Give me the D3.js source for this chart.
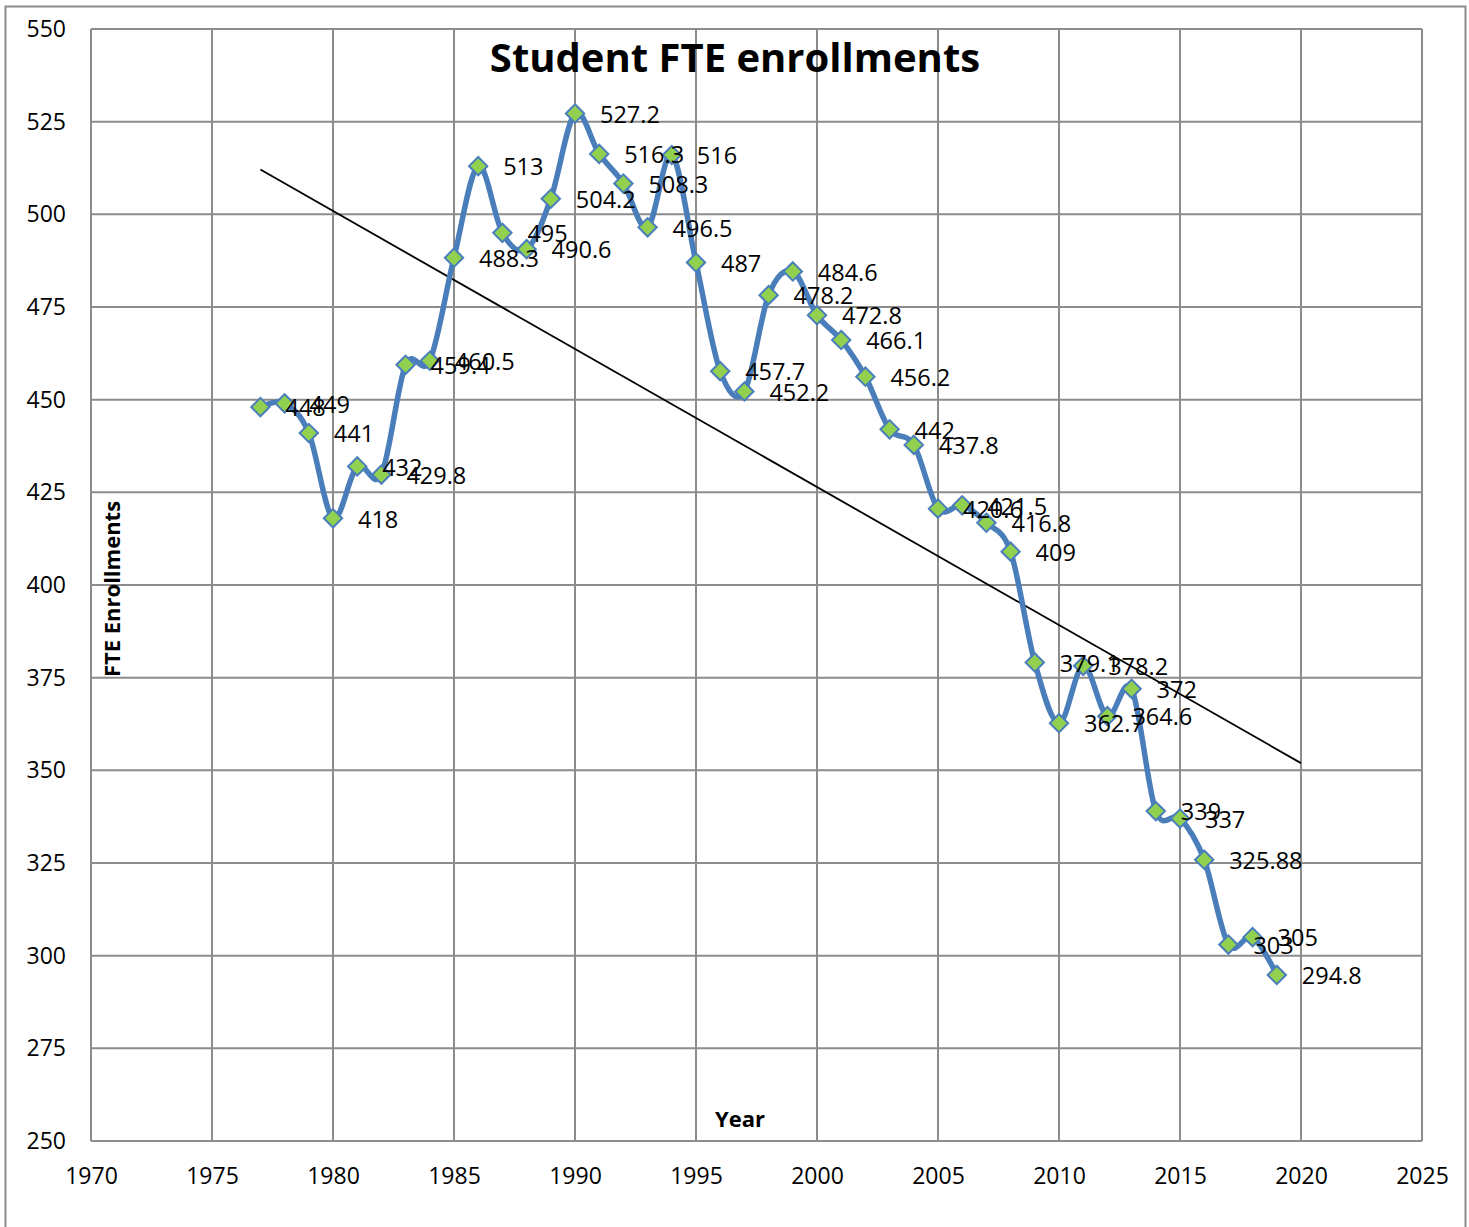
<!DOCTYPE html>
<html>
<head>
<meta charset="utf-8">
<script src="https://cdn.jsdelivr.net/npm/d3@7"></script>
<style>
  body { margin: 0; background: #fff; }
  svg { display: block; }
  text { font-family: "Open Sans", sans-serif; fill: #000; }
</style>
</head>
<body>
<svg id="chart"></svg>
<script>
var years = [1977,1978,1979,1980,1981,1982,1983,1984,1985,1986,1987,1988,1989,1990,1991,1992,1993,1994,1995,1996,1997,1998,1999,2000,2001,2002,2003,2004,2005,2006,2007,2008,2009,2010,2011,2012,2013,2014,2015,2016,2017,2018,2019];
var enrollments = [448,449,441,418,432,429.8,459.4,460.5,488.3,513,495,490.6,504.2,527.2,516.3,508.3,496.5,516,487,457.7,452.2,478.2,484.6,472.8,466.1,456.2,442,437.8,420.6,421.5,416.8,409,379.1,362.7,378.2,364.6,372,339,337,325.88,303,305,294.8];
var xTicks = [1970,1975,1980,1985,1990,1995,2000,2005,2010,2015,2020,2025];
var yTicks = [250,275,300,325,350,375,400,425,450,475,500,525,550];

const width = 1469, height = 1227;
const plot = { left: 91, top: 29, right: 1422, bottom: 1141 };

var svg = d3.select('#chart')
    .attr('width', width)
    .attr('height', height);

// outer chart border
svg.append('rect')
    .attr('x', 5.5).attr('y', 6.5)
    .attr('width', 1460).attr('height', 1240)
    .attr('fill', 'none')
    .attr('stroke', '#8c8c8c')
    .attr('stroke-width', 2);

const x = d3.scaleLinear().domain([1970, 2025]).range([plot.left, plot.right]);
const y = d3.scaleLinear().domain([250, 550]).range([plot.bottom, plot.top]);

var data = years.map((yr, i) => [yr, enrollments[i]]);

// grid
var grid = svg.append('g');
grid.selectAll('.vgrid')
    .data(xTicks)
    .join('line')
    .attr('x1', d => x(d)).attr('x2', d => x(d))
    .attr('y1', plot.top).attr('y2', plot.bottom)
    .attr('stroke', '#8c8c8c').attr('stroke-width', 2);
grid.selectAll('.hgrid')
    .data(yTicks)
    .join('line')
    .attr('x1', plot.left).attr('x2', plot.right)
    .attr('y1', d => y(d)).attr('y2', d => y(d))
    .attr('stroke', '#8c8c8c').attr('stroke-width', 2);

// axes
const yAxis = d3.axisLeft(y).tickValues(yTicks).tickSize(0).tickPadding(25);
svg.append('g')
    .attr('transform', `translate(${plot.left},0)`)
    .call(yAxis)
    .call(g => g.select('.domain').remove())
    .selectAll('text')
    .attr('font-size', '23px')
    .style('font-family', '"Open Sans", sans-serif');

const xAxis = d3.axisBottom(x).tickValues(xTicks).tickFormat(d3.format('d')).tickSize(0).tickPadding(27);
svg.append('g')
    .attr('transform', `translate(0,${plot.bottom})`)
    .call(xAxis)
    .call(g => g.select('.domain').remove())
    .selectAll('text')
    .attr('font-size', '23px')
    .style('font-family', '"Open Sans", sans-serif');

// linear trend (least squares), forecast forward to 2020
var xm = d3.mean(years), ym = d3.mean(enrollments);
var slope = d3.sum(data, d => (d[0] - xm) * (d[1] - ym)) / d3.sum(data, d => (d[0] - xm) * (d[0] - xm));
var intercept = ym - slope * xm;
var trendYears = [years[0], 2020];
svg.append('line')
    .attr('x1', x(trendYears[0])).attr('y1', y(intercept + slope * trendYears[0]))
    .attr('x2', x(trendYears[1])).attr('y2', y(intercept + slope * trendYears[1]))
    .attr('stroke', '#000').attr('stroke-width', 1.8);

// smoothed series line
const line = d3.line()
    .x(d => x(d[0]))
    .y(d => y(d[1]))
    .curve(d3.curveCardinal.tension(0));
svg.append('path')
    .datum(data)
    .attr('d', line)
    .attr('fill', 'none')
    .attr('stroke', '#4a7ebb')
    .attr('stroke-width', 5.5)
    .attr('stroke-linejoin', 'round');

// diamond markers
const diamond = d3.symbol().type(d3.symbolDiamond2).size(215);
svg.append('g').selectAll('path')
    .data(data)
    .join('path')
    .attr('d', diamond)
    .attr('transform', d => `translate(${x(d[0])},${y(d[1])})`)
    .attr('fill', '#92d050')
    .attr('stroke', '#4a7ebb')
    .attr('stroke-width', 2);

// data labels
svg.append('g').selectAll('text')
    .data(data)
    .join('text')
    .attr('x', d => x(d[0]) + 25)
    .attr('y', d => y(d[1]) + 1)
    .attr('dy', '0.35em')
    .attr('font-size', '23.5px')
    .text(d => d[1]);

// titles
svg.append('text')
    .attr('x', 735).attr('y', 58)
    .attr('dy', '0.35em')
    .attr('text-anchor', 'middle')
    .attr('font-size', '40px')
    .attr('font-weight', 'bold')
    .text('Student FTE enrollments');

svg.append('text')
    .attr('x', 740).attr('y', 1119)
    .attr('dy', '0.35em')
    .attr('text-anchor', 'middle')
    .attr('font-size', '22px')
    .attr('font-weight', 'bold')
    .text('Year');

svg.append('text')
    .attr('transform', 'translate(112,589) rotate(-90)')
    .attr('dy', '0.35em')
    .attr('text-anchor', 'middle')
    .attr('font-size', '22px')
    .attr('font-weight', 'bold')
    .text('FTE Enrollments');
</script>
</body>
</html>
